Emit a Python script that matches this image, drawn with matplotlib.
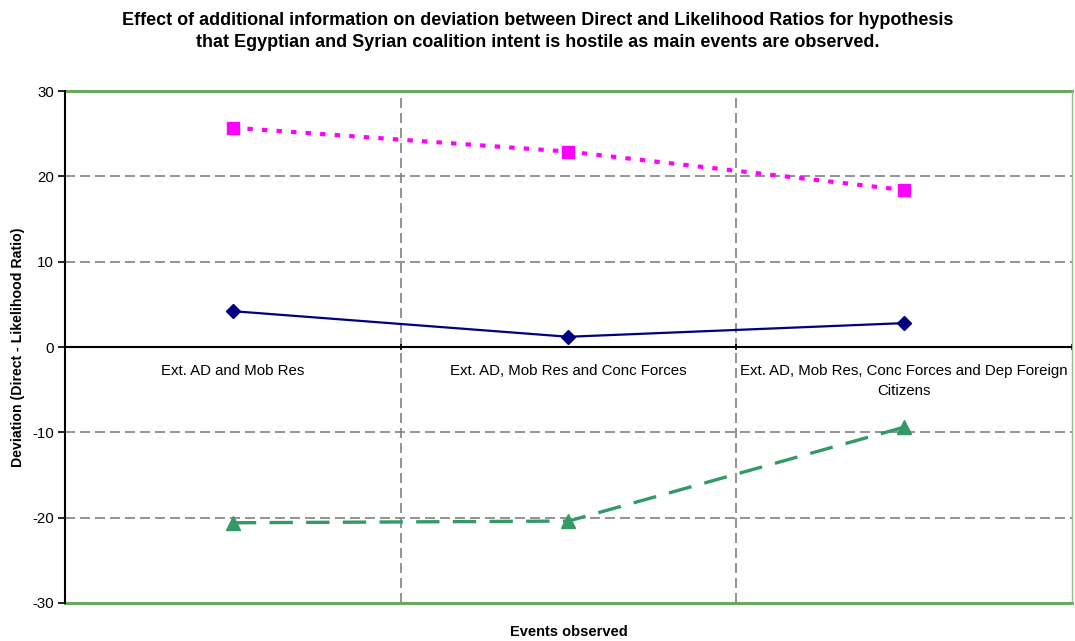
import matplotlib
matplotlib.use("Agg")
import matplotlib.pyplot as plt

plt.rcParams['font.family'] = ['Liberation Sans', 'DejaVu Sans']

categories = [
    "Ext. AD and Mob Res",
    "Ext. AD, Mob Res and Conc Forces",
    "Ext. AD, Mob Res, Conc Forces and Dep Foreign\nCitizens",
]
series_pink = [25.7, 22.9, 18.4]
series_navy = [4.2, 1.2, 2.8]
series_green = [-20.6, -20.4, -9.4]
y_ticks = [-30, -20, -10, 0, 10, 20, 30]

title = ("Effect of additional information on deviation between Direct and Likelihood Ratios for hypothesis\n"
         "that Egyptian and Syrian coalition intent is hostile as main events are observed.")

fig = plt.figure(figsize=(10.75, 6.41), dpi=100)
ax = fig.add_axes([0.0605, 0.0593, 0.9365, 0.7987])

x = list(range(len(categories)))
ax.set_xlim(-0.5, len(categories) - 0.5)
ax.set_ylim(-30, 30)

# gridlines
for yv in [-20, -10, 10, 20]:
    ax.axhline(yv, color='#808080', lw=1.2, ls=(0, (6, 3)), zorder=1)
for xv in [0.5, 1.5]:
    ax.axvline(xv, color='#808080', lw=1.2, ls=(0, (6, 3)), zorder=1)

# plot area edges
green_edge = '#6aa85e'
ax.axhline(30, color=green_edge, lw=2.2, zorder=2, clip_on=False)
ax.axhline(-30, color=green_edge, lw=2.2, zorder=2, clip_on=False)
ax.spines['top'].set_visible(False)
ax.spines['right'].set_color('#8fbf85')
ax.spines['right'].set_linewidth(1.0)
ax.spines['left'].set_color('black')
ax.spines['left'].set_linewidth(1.5)
ax.spines['left'].set_zorder(5)

# zero axis with category labels
ax.axhline(0, color='black', lw=1.5, zorder=3)
ax.set_xticks(x)
ax.set_xticklabels(categories)
ax.tick_params(axis='x', which='major', length=0, pad=12, labelsize=10.8)
ax.set_xticks([0.5, 1.5, 2.5], minor=True)
ax.tick_params(axis='x', which='minor', length=4, width=1.2, direction='inout')
ax.xaxis.set_ticks_position('bottom')
ax.spines['bottom'].set_position(('data', 0))
ax.spines['bottom'].set_visible(False)
for lbl in ax.get_xticklabels():
    lbl.set_linespacing(1.6)
    lbl.set_verticalalignment('top')
    lbl.set_horizontalalignment('center')
    lbl.set_multialignment('center')

ax.set_yticks(y_ticks)
ax.set_yticklabels([str(v) for v in y_ticks])
ax.tick_params(axis='y', length=5, width=1.2, direction='out', pad=3, labelsize=10.8)

# data series
ax.plot(x, series_pink, color='#ff00ff', lw=3, ls=(0, (1.3, 2.2)),
        marker='s', ms=9, mec='#ff00ff', mfc='#ff00ff', zorder=6, clip_on=False)
ax.plot(x, series_navy, color='#000080', lw=1.6, ls='-',
        marker='D', ms=7, mec='#000080', mfc='#000080', zorder=6, clip_on=False)
ax.plot(x, series_green, color='#339966', lw=2.4, ls=(0, (7, 4)),
        marker='^', ms=10, mec='#339966', mfc='#339966', zorder=6, clip_on=False)

ax.set_ylabel("Deviation (Direct - Likelihood Ratio)", fontsize=10.2, fontweight='bold', labelpad=5)
ax.text(0.5, -0.056, "Events observed", transform=ax.transAxes, ha='center', va='center',
        fontsize=10.5, fontweight='bold')
fig.text(0.5, 0.951, title, ha='center', va='center', fontsize=13, fontweight='bold', linespacing=1.35)

fig.savefig("out.png", dpi=100)
